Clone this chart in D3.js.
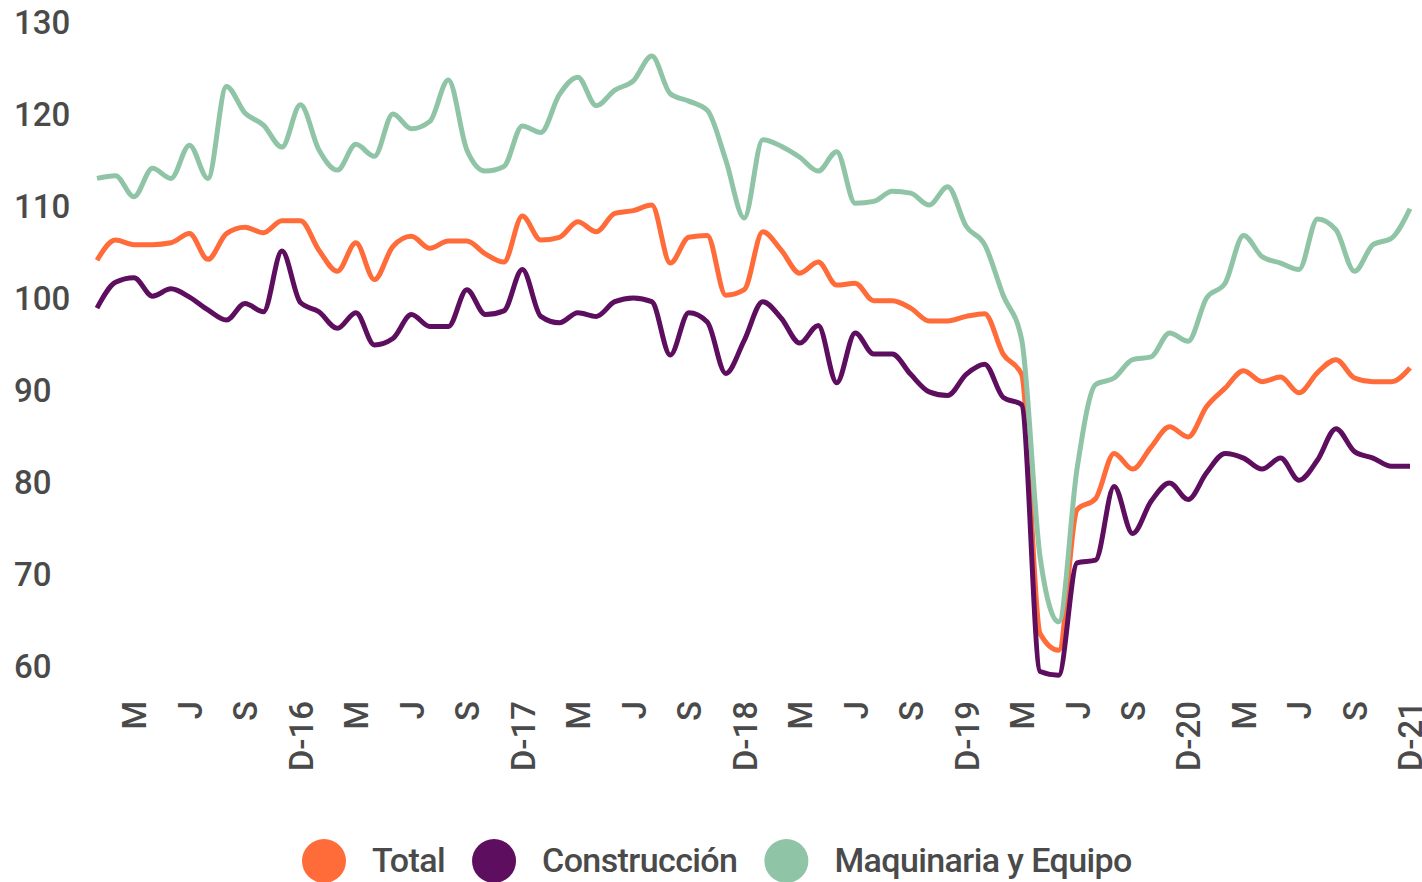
<!DOCTYPE html>
<html>
<head>
<meta charset="utf-8">
<script src="https://cdn.jsdelivr.net/npm/d3@7"></script>
<style>
  body { margin: 0; background: #fff; }
  svg text { font-family: Roboto, "Noto Sans", sans-serif; fill: #4a4a4a; }
</style>
</head>
<body>
<div id="chart"></div>
<script>
// monthly index, Jan 2016 .. Dec 2021
var total = [104.1, 106.3, 105.8, 105.8, 106.0, 107.0, 104.2, 107.0, 107.7, 107.1, 108.4, 108.4,
  105.2, 102.9, 106.0, 102.0, 105.6, 106.7, 105.4, 106.2, 106.2, 104.8, 103.9, 108.9,
  106.3, 106.6, 108.3, 107.2, 109.2, 109.5, 110.1, 103.8, 106.6, 106.8, 100.3, 100.9,
  107.2, 105.2, 102.7, 103.9, 101.4, 101.6, 99.7, 99.7, 98.9, 97.5, 97.5, 98.0,
  98.3, 93.9, 91.7, 63.5, 61.7, 77.0, 78.2, 83.1, 81.4, 83.8, 86.0, 84.9,
  88.2, 90.2, 92.1, 90.9, 91.4, 89.7, 91.9, 93.3, 91.3, 90.9, 90.9, 92.4];

var construccion = [98.9, 101.7, 102.2, 100.2, 101.0, 100.1, 98.7, 97.6, 99.4, 98.5, 105.1, 99.5,
  98.5, 96.7, 98.4, 94.9, 95.6, 98.2, 96.9, 96.9, 100.9, 98.2, 98.6, 103.1,
  98.0, 97.3, 98.4, 98.0, 99.6, 100.0, 99.6, 93.8, 98.4, 97.4, 91.8, 95.4,
  99.6, 97.8, 95.1, 97.0, 90.8, 96.2, 93.9, 93.9, 91.7, 89.8, 89.4, 91.7,
  92.8, 89.2, 88.4, 59.4, 59.0, 71.2, 71.5, 79.5, 74.4, 77.9, 79.9, 78.1,
  81.0, 83.1, 82.6, 81.4, 82.6, 80.2, 82.4, 85.8, 83.3, 82.6, 81.7, 81.7];

var maquinaria = [113.0, 113.3, 111.0, 114.1, 113.0, 116.6, 113.0, 123.0, 120.1, 118.8, 116.4, 121.0,
  116.1, 113.9, 116.7, 115.4, 120.0, 118.4, 119.2, 123.7, 116.1, 113.8, 114.3, 118.7,
  118.0, 122.1, 124.0, 120.9, 122.6, 123.6, 126.3, 122.2, 121.4, 120.4, 115.0, 108.7,
  117.2, 116.5, 115.3, 113.8, 115.9, 110.3, 110.5, 111.6, 111.4, 110.1, 112.1, 107.8,
  105.8, 100.3, 95.5, 71.8, 64.8, 81.5, 90.6, 91.3, 93.3, 93.6, 96.2, 95.3,
  100.0, 101.6, 106.8, 104.5, 103.8, 103.1, 108.6, 107.4, 102.9, 105.8, 106.5, 109.7];

// x tick labels, one every 3 months starting in March 2016
var tickLabels = ["M", "J", "S", "D-16", "M", "J", "S", "D-17", "M", "J", "S", "D-18",
  "M", "J", "S", "D-19", "M", "J", "S", "D-20", "M", "J", "S", "D-21"];
var yTicks = [60, 70, 80, 90, 100, 110, 120, 130];

var seriesNames = ["Total", "Construcción", "Maquinaria y Equipo"];
var seriesColors = ["#ff6b39", "#5e0e5e", "#8fc4a7"];

var width = 1422, height = 882;
var svg = d3.select("#chart").append("svg")
  .attr("width", width)
  .attr("height", height);

var x = d3.scaleLinear().domain([0, total.length - 1]).range([97, 1410]);
var y = d3.scaleLinear().domain([60, 130]).range([666, 22]);

// y axis, labels left aligned
var yAxis = svg.append("g")
  .attr("transform", "translate(14,1)")
  .call(d3.axisLeft(y).tickValues(yTicks).tickSize(0));
yAxis.select(".domain").remove();
yAxis.selectAll("text")
  .attr("x", 0)
  .attr("text-anchor", "start")
  .style("font-size", "33px")
  .style("font-weight", 500);

// x axis, rotated labels
var tickIdx = tickLabels.map(function(d, i) { return 2 + i * 3; });
var xAxis = svg.append("g")
  .attr("transform", "translate(0,701)")
  .call(d3.axisBottom(x).tickValues(tickIdx).tickSize(0)
    .tickFormat(function(d, i) { return tickLabels[i]; }));
xAxis.select(".domain").remove();
xAxis.selectAll("text")
  .attr("transform", "rotate(-90)")
  .attr("x", 0)
  .attr("y", 0)
  .attr("dy", "0.36em")
  .attr("text-anchor", "end")
  .style("font-size", "33px")
  .style("font-weight", 500);

var line = d3.line()
  .x(function(d, i) { return x(i); })
  .y(function(d) { return y(d); })
  .curve(d3.curveMonotoneX);

var allSeries = [total, construccion, maquinaria];
svg.append("g").selectAll("path")
  .data(allSeries)
  .enter().append("path")
  .attr("d", line)
  .attr("fill", "none")
  .attr("stroke", function(d, i) { return seriesColors[i]; })
  .attr("stroke-width", 5)
  .attr("stroke-linejoin", "round")
  .attr("stroke-linecap", "butt");

// legend
var legend = svg.append("g");
var cx = 324;
seriesNames.forEach(function(name, i) {
  legend.append("circle")
    .attr("cx", cx)
    .attr("cy", 861)
    .attr("r", 22)
    .attr("fill", seriesColors[i]);
  var t = legend.append("text")
    .attr("x", cx + 48)
    .attr("y", 872)
    .style("font-size", "34px")
    .style("font-weight", 500)
    .style("letter-spacing", "-0.6px")
    .text(name);
  cx = cx + 48 + t.node().getComputedTextLength() + 49;
});
</script>
</body>
</html>
